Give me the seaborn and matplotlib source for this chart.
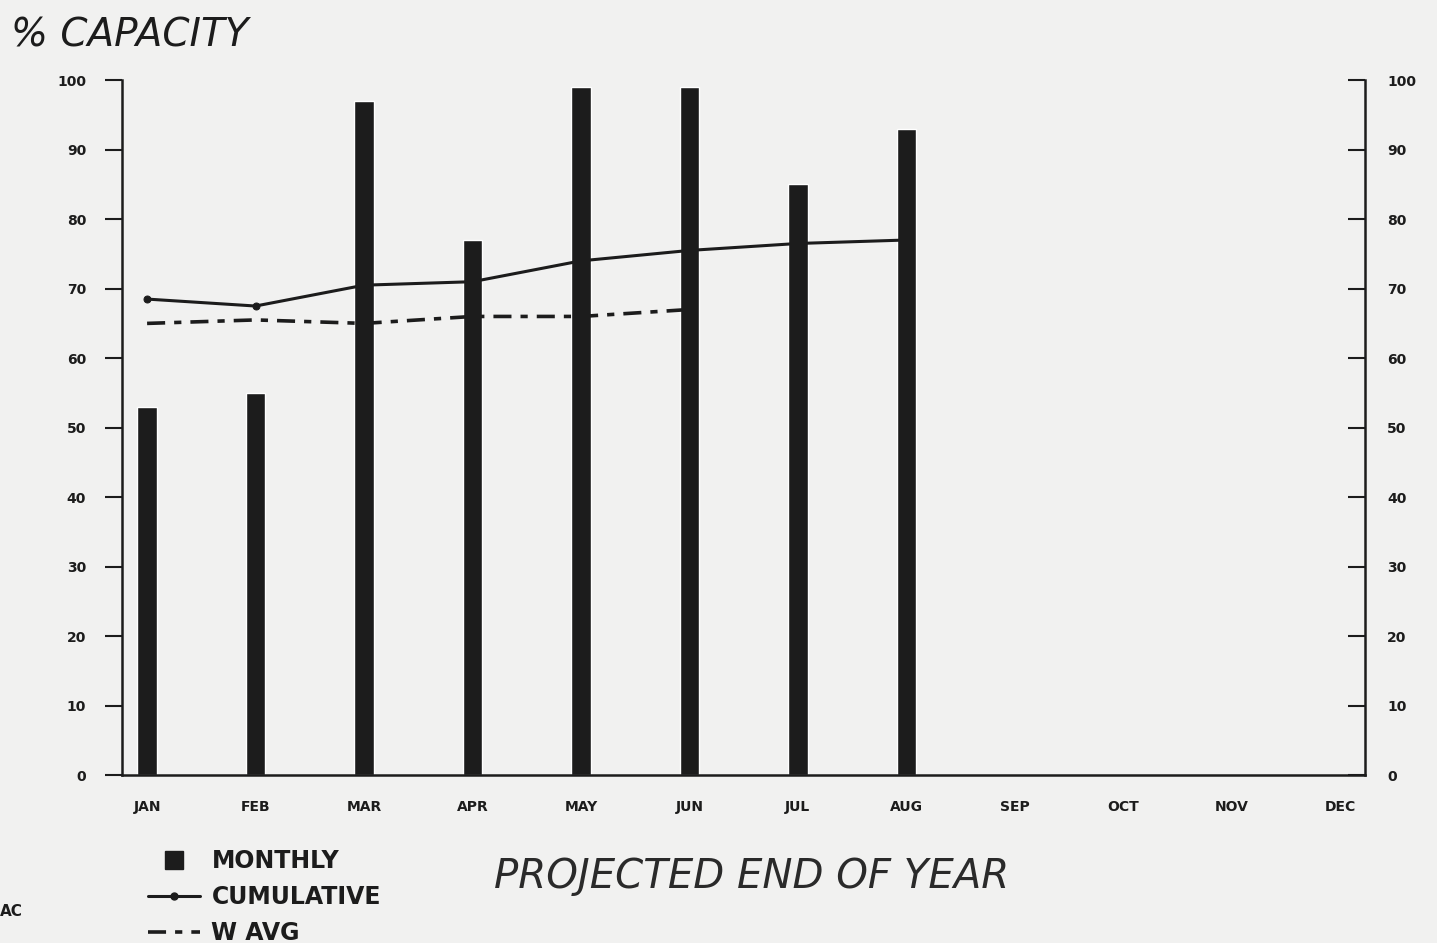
import matplotlib
matplotlib.use("Agg")
import matplotlib.pyplot as plt
from matplotlib.lines import Line2D
import seaborn as sns
import pandas as pd

# Data
months = ["JAN", "FEB", "MAR", "APR", "MAY", "JUN", "JUL", "AUG", "SEP", "OCT", "NOV", "DEC"]
monthly = [53, 55, 97, 77, 99, 99, 85, 93]
cumulative = [68.5, 67.5, 70.5, 71, 74, 75.5, 76.5, 77]
w_avg = [65, 65.5, 65, 66, 66, 67]
y_ticks = [0, 10, 20, 30, 40, 50, 60, 70, 80, 90, 100]

bg = "#f1f1f0"
ink = "#1c1c1c"
dashdot = (0, (5, 2.5, 2, 2.5))

sns.set_theme(style="white")
plt.rcParams['font.family'] = ['DejaVu Sans']

fig = plt.figure(figsize=(14.37, 9.43), dpi=100, facecolor=bg)
ax = fig.add_axes([0.085, 0.178, 0.865, 0.737], facecolor=bg)

bar_df = pd.DataFrame({"month": months[:len(monthly)], "value": monthly})
sns.barplot(data=bar_df, x="month", y="value", order=months, color=ink,
            width=0.18, saturation=1, ax=ax)

sns.lineplot(x=list(range(len(cumulative))), y=cumulative, ax=ax, color=ink,
             linewidth=2.2, marker="o", markersize=5, markeredgecolor=ink)
sns.lineplot(x=list(range(len(w_avg))), y=w_avg, ax=ax, color=ink,
             linewidth=2.6, dashes=False, linestyle=dashdot)

ax.set_xlim(-0.23, 11.23)
ax.set_ylim(0, 100)
ax.set_yticks(y_ticks)
ax.set_yticklabels([str(t) for t in y_ticks], fontsize=10, fontweight="bold", color=ink)
ax.set_xticks(range(len(months)))
ax.set_xticklabels(months, fontsize=10, fontweight="bold", color=ink)
ax.tick_params(axis="x", length=0, pad=18)
ax.tick_params(axis="y", direction="out", length=12, width=1.5, color=ink, pad=14, left=True)
ax.set_xlabel("")
ax.set_ylabel("")

for side in ["left", "bottom"]:
    ax.spines[side].set_color(ink)
    ax.spines[side].set_linewidth(1.8)
ax.spines["top"].set_visible(False)
ax.spines["right"].set_visible(False)

axr = ax.twinx()
axr.set_ylim(0, 100)
axr.set_yticks(y_ticks)
axr.set_yticklabels([str(t) for t in y_ticks], fontsize=10, fontweight="bold", color=ink)
axr.tick_params(axis="y", direction="in", length=12, width=1.5, color=ink, pad=16, right=True)
for side in ["left", "top", "bottom"]:
    axr.spines[side].set_visible(False)
axr.spines["right"].set_color(ink)
axr.spines["right"].set_linewidth(1.8)

fig.text(0.008, 0.962, "% CAPACITY", fontsize=28, style="italic", color=ink, va="center")
fig.text(0.523, 0.07, "PROJECTED END OF YEAR", fontsize=29, style="italic",
         color="#2a2a2a", ha="center", va="center")
fig.text(0.0, 0.033, "AC", fontsize=11, fontweight="bold", color=ink, va="center")

handles = [
    Line2D([], [], color=ink, linestyle="none", marker="s", markersize=13),
    Line2D([], [], color=ink, linewidth=2.2, marker="o", markersize=5),
    Line2D([], [], color=ink, linewidth=2.6, linestyle=dashdot),
]
fig.legend(handles, ["MONTHLY", "CUMULATIVE", "W AVG"], loc="upper left",
           bbox_to_anchor=(0.088, 0.122), frameon=False, handlelength=2.2,
           handletextpad=0.5, labelspacing=0.5,
           prop={"size": 17, "weight": "bold"},
           labelcolor=ink)

fig.savefig("out.png", dpi=100, facecolor=bg)
